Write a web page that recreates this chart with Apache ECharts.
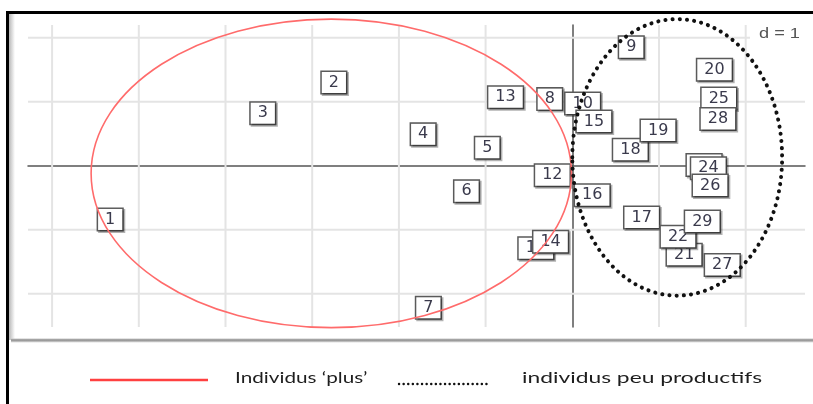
<!DOCTYPE html>
<html><head><meta charset="utf-8">
<script src="https://cdn.jsdelivr.net/npm/echarts@6/dist/echarts.min.js"></script>
<style>html,body{margin:0;padding:0;background:#fff}#c{width:813px;height:404px}</style>
</head><body><div id="c"></div>
<script>
// individuals (labels) and their coordinates on the factorial plane
const ids = [1,2,3,4,5,6,7,8,9,10,11,12,13,14,15,16,17,18,19,20,21,22,23,24,25,26,27,28,29];
const xs = [-5.33,-2.75,-3.57,-1.72,-0.98,-1.22,-1.66,-0.26,0.68,0.12,-0.42,-0.23,-0.77,-0.25,0.25,0.23,0.80,0.67,0.99,1.64,1.29,1.22,1.52,1.57,1.69,1.59,1.73,1.68,1.50];
const ys = [-0.84,1.30,0.82,0.49,0.28,-0.40,-2.22,1.04,1.85,0.97,-1.29,-0.15,1.07,-1.19,0.69,-0.46,-0.81,0.25,0.55,1.50,-1.39,-1.11,0.01,-0.04,1.05,-0.31,-1.55,0.73,-0.87];
// grid lines (d = 1)
const gridX = [-6,-5,-4,-3,-2,-1,1,2];
const gridY = [-2,-1,1,2];
// ellipses: [cx, cy, rx, ry]
const ellipsePlus = [-2.78,-0.12,2.77,2.41];
const ellipsePeu = [1.21,0.13,1.21,2.16];
const legendLabels = ['Individus \u2018plus\u2019', 'individus peu productifs'];
const scaleLabel = 'd = 1';

const chart = echarts.init(document.getElementById('c'), null, {renderer:'canvas'});

function ellipseItem(stroke, lineWidth, dash) {
  return function(params, api) {
    const c = api.coord([api.value(0), api.value(1)]);
    const s = api.size([api.value(2), api.value(3)]);
    return {type:'ellipse', shape:{cx:c[0], cy:c[1], rx:s[0], ry:s[1]},
      style:{fill:null, stroke:stroke, lineWidth:lineWidth, lineDash:dash, lineCap:'round'}};
  };
}

const option = {
  animation:false,
  backgroundColor:'#fff',
  grid:{left:28, right:8, top:25, bottom:77},
  xAxis:{type:'value', min:-6.278, max:2.684, axisLine:{show:true, onZero:true, lineStyle:{color:'#555', width:1.5}},
    axisTick:{show:false}, axisLabel:{show:false}, splitLine:{show:false}},
  yAxis:{type:'value', min:-2.52, max:2.198, axisLine:{show:true, onZero:true, lineStyle:{color:'#555', width:1.5}},
    axisTick:{show:false}, axisLabel:{show:false}, splitLine:{show:false}},
  series:[
    {type:'custom', z:1, silent:true, data:gridX.map(v=>[v,0]), encode:{x:0,y:1},
      renderItem:function(params, api){
        const cs = params.coordSys; const p = api.coord([api.value(0), 0]);
        return {type:'line', shape:{x1:p[0], y1:cs.y, x2:p[0], y2:cs.y+cs.height}, style:{stroke:'#e4e4e4', lineWidth:2}};
      }},
    {type:'custom', z:1, silent:true, data:gridY.map(v=>[0,v]), encode:{x:0,y:1},
      renderItem:function(params, api){
        const cs = params.coordSys; const p = api.coord([0, api.value(1)]);
        return {type:'line', shape:{x1:cs.x, y1:p[1], x2:cs.x+cs.width, y2:p[1]}, style:{stroke:'#e4e4e4', lineWidth:2}};
      }},
    {type:'scatter', z:3, symbolSize:0, itemStyle:{opacity:1}, data:ids.map((id,i)=>[xs[i], ys[i], String(id)]),
      label:{show:true, position:'inside', formatter:p=>p.value[2], fontFamily:'DejaVu Sans', fontSize:16,
        color:'#3a3a4c', backgroundColor:'#fff', borderColor:'#5a5a5a', borderWidth:1.5, padding:[3,7,2,7], lineHeight:16,
        shadowColor:'rgba(0,0,0,0.3)', shadowOffsetX:1.5, shadowOffsetY:1.5, shadowBlur:0},
      labelLayout:{hideOverlap:false}},
    {type:'custom', z:5, silent:true, clip:false, data:[ellipsePlus], encode:{x:0,y:1},
      renderItem:ellipseItem('#ff6b6b', 1.6, null)},
    {type:'custom', z:6, silent:true, clip:false, data:[ellipsePeu], encode:{x:0,y:1},
      renderItem:ellipseItem('#111', 4, [0.1, 7.1])}
  ],
  graphic:[
    {type:'rect', z:0, shape:{x:6, y:11, width:807, height:3}, style:{fill:'#000'}},
    {type:'rect', z:0, shape:{x:6, y:11, width:3, height:393}, style:{fill:'#000'}},
    {type:'rect', z:0, shape:{x:9, y:14, width:6, height:326}, style:{fill:new echarts.graphic.LinearGradient(0,0,1,0,[{offset:0,color:'#b8b8b8'},{offset:1,color:'#fff'}])}},
    {type:'rect', z:0, shape:{x:11, y:338.5, width:802, height:4}, style:{fill:new echarts.graphic.LinearGradient(0,0,0,1,[{offset:0,color:'#c8c8c8'},{offset:0.4,color:'#8e8e8e'},{offset:1,color:'#e0e0e0'}])}},
    {type:'rect', z:10, shape:{x:750, y:24, width:62, height:20}, style:{fill:'#fff'}},
    {type:'text', z:11, x:759, y:34, scaleX:1.3, style:{text:scaleLabel, x:0, y:0, font:'14px "Liberation Sans"', fill:'#555', verticalAlign:'middle'}},
    {type:'line', z:10, shape:{x1:90, y1:380, x2:208, y2:380}, style:{stroke:'#ff4040', lineWidth:2.5}},
    {type:'text', z:10, x:235, y:378, scaleX:1.38, style:{text:legendLabels[0], x:0, y:0, font:'15px Lato', fill:'#1e1e1e', verticalAlign:'middle'}},
    {type:'line', z:10, shape:{x1:399, y1:384, x2:490, y2:384}, style:{stroke:'#111', lineWidth:2.4, lineDash:[0.1,4.5], lineCap:'round'}},
    {type:'text', z:10, x:522, y:378, scaleX:1.52, style:{text:legendLabels[1], x:0, y:0, font:'15px Lato', fill:'#1e1e1e', verticalAlign:'middle'}}
  ]
};
chart.setOption(option);
</script></body></html>
